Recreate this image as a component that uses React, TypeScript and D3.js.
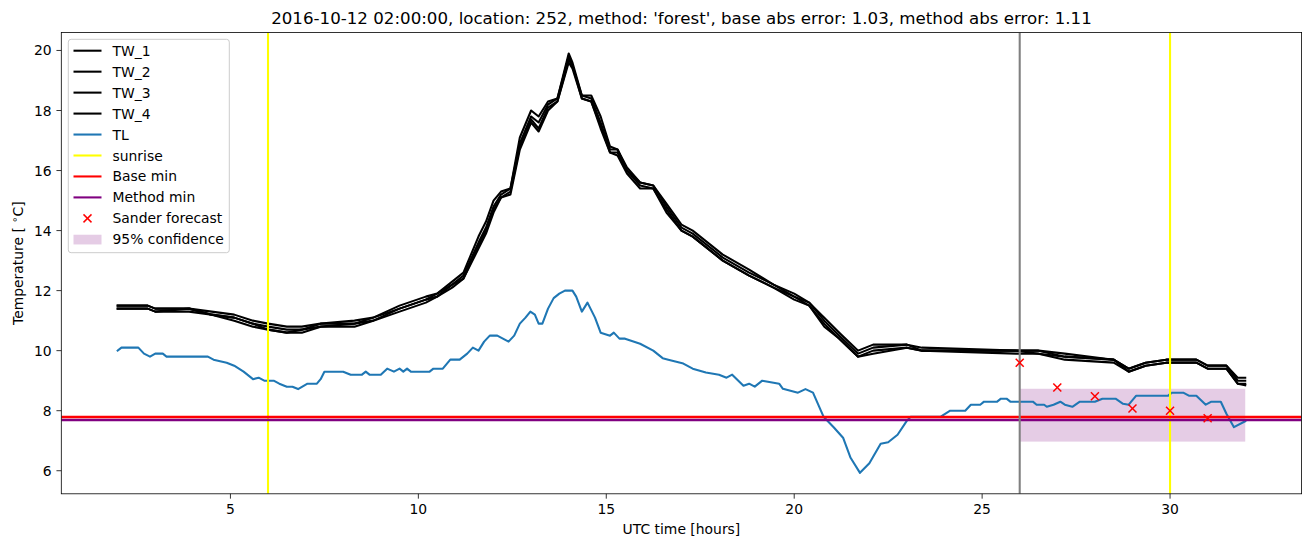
import React from "react";
import * as d3 from "d3";

const W = 1311;
const H = 547;

const titleText =
  "2016-10-12 02:00:00, location: 252, method: 'forest', base abs error: 1.03, method abs error: 1.11";

const twHours = [2.0, 2.8, 3.0, 3.9, 4.5, 5.1, 5.6, 6.0, 6.5, 6.9, 7.4, 8.3, 8.8, 9.5, 10.2, 10.5, 10.9, 11.2, 11.6, 11.8, 12.0, 12.2, 12.45, 12.7, 13.0, 13.2, 13.45, 13.7, 14.0, 14.1, 14.35, 14.6, 14.85, 15.1, 15.3, 15.55, 15.9, 16.25, 16.6, 17.0, 17.3, 18.1, 18.8, 19.45, 20.0, 20.4, 20.8, 21.2, 21.7, 22.1, 23.0, 23.4, 25.9, 26.5, 27.2, 28.5, 28.9, 29.35, 29.9, 30.7, 31.0, 31.5, 31.8, 32.0];

const tw1 = [11.5, 11.5, 11.4, 11.4, 11.3, 11.2, 11.0, 10.9, 10.8, 10.8, 10.9, 11.0, 11.1, 11.5, 11.8, 11.9, 12.3, 12.6, 13.8, 14.3, 15.0, 15.3, 15.4, 17.1, 18.0, 17.8, 18.3, 18.4, 19.9, 19.6, 18.5, 18.5, 17.8, 16.8, 16.7, 16.1, 15.6, 15.5, 14.9, 14.2, 14.0, 13.2, 12.7, 12.2, 11.9, 11.6, 11.1, 10.6, 10.0, 10.2, 10.2, 10.1, 10.0, 10.0, 9.9, 9.7, 9.4, 9.6, 9.7, 9.7, 9.5, 9.5, 9.1, 9.1];
const tw2 = [11.5, 11.5, 11.4, 11.4, 11.2, 11.1, 10.9, 10.8, 10.7, 10.7, 10.9, 10.9, 11.1, 11.4, 11.7, 11.9, 12.2, 12.5, 13.6, 14.1, 14.8, 15.2, 15.4, 16.9, 17.8, 17.6, 18.2, 18.4, 19.8, 19.5, 18.5, 18.4, 17.6, 16.7, 16.7, 16.0, 15.6, 15.5, 14.8, 14.1, 13.9, 13.1, 12.6, 12.2, 11.8, 11.6, 11.0, 10.5, 9.9, 10.1, 10.2, 10.0, 10.0, 10.0, 9.8, 9.7, 9.4, 9.6, 9.7, 9.7, 9.5, 9.5, 9.0, 9.0];
const tw3 = [11.4, 11.4, 11.3, 11.4, 11.2, 11.1, 10.9, 10.7, 10.6, 10.7, 10.8, 10.9, 11.0, 11.4, 11.7, 11.8, 12.2, 12.4, 13.5, 14.0, 14.7, 15.1, 15.3, 16.8, 17.7, 17.4, 18.1, 18.3, 19.7, 19.5, 18.4, 18.3, 17.5, 16.6, 16.6, 16.0, 15.5, 15.4, 14.7, 14.0, 13.8, 13.0, 12.5, 12.1, 11.8, 11.5, 10.9, 10.4, 9.8, 10.0, 10.1, 10.0, 10.0, 9.9, 9.8, 9.7, 9.3, 9.5, 9.6, 9.6, 9.4, 9.4, 8.9, 8.9];
const tw4 = [11.4, 11.4, 11.3, 11.3, 11.2, 11.0, 10.8, 10.7, 10.6, 10.6, 10.8, 10.8, 11.0, 11.3, 11.6, 11.8, 12.1, 12.4, 13.4, 13.9, 14.6, 15.1, 15.2, 16.7, 17.6, 17.3, 18.0, 18.3, 19.6, 19.4, 18.4, 18.3, 17.4, 16.6, 16.5, 15.9, 15.4, 15.4, 14.6, 14.0, 13.8, 13.0, 12.5, 12.1, 11.7, 11.5, 10.8, 10.4, 9.8, 9.9, 10.1, 10.0, 9.9, 9.9, 9.7, 9.6, 9.3, 9.5, 9.6, 9.6, 9.4, 9.4, 8.9, 8.85];

const tlHours = [2.0, 2.1, 2.55, 2.7, 2.86, 3.0, 3.2, 3.3, 4.4, 4.55, 4.9, 5.1, 5.35, 5.6, 5.75, 5.9, 6.15, 6.3, 6.5, 6.65, 6.8, 7.05, 7.3, 7.4, 7.5, 8.0, 8.2, 8.5, 8.6, 8.7, 9.0, 9.17, 9.35, 9.5, 9.6, 9.7, 9.8, 10.3, 10.4, 10.65, 10.85, 11.1, 11.3, 11.45, 11.6, 11.75, 11.9, 12.1, 12.25, 12.4, 12.55, 12.7, 12.85, 12.98, 13.1, 13.2, 13.3, 13.45, 13.6, 13.75, 13.9, 14.1, 14.2, 14.35, 14.5, 14.7, 14.85, 15.1, 15.2, 15.35, 15.5, 15.9, 16.25, 16.5, 16.65, 17.05, 17.3, 17.65, 18.0, 18.2, 18.35, 18.65, 18.8, 18.95, 19.15, 19.6, 19.7, 20.1, 20.3, 20.5, 20.78, 21.05, 21.3, 21.5, 21.75, 22.0, 22.3, 22.5, 22.75, 23.0, 23.1, 23.9, 24.15, 24.55, 24.7, 24.95, 25.05, 25.4, 25.5, 25.65, 25.75, 26.35, 26.45, 26.65, 26.72, 26.9, 27.08, 27.2, 27.4, 27.6, 28.0, 28.2, 28.55, 28.75, 28.9, 29.1, 29.95, 30.05, 30.35, 30.5, 30.7, 30.95, 31.1, 31.35, 31.5, 31.7, 32.0];
const tlValues = [10.0, 10.1, 10.1, 9.9, 9.8, 9.9, 9.9, 9.8, 9.8, 9.7, 9.6, 9.5, 9.3, 9.05, 9.1, 9.0, 9.0, 8.9, 8.8, 8.8, 8.72, 8.9, 8.9, 9.05, 9.3, 9.3, 9.2, 9.2, 9.3, 9.2, 9.2, 9.4, 9.3, 9.4, 9.3, 9.4, 9.3, 9.3, 9.4, 9.4, 9.7, 9.7, 9.9, 10.1, 10.0, 10.3, 10.5, 10.5, 10.4, 10.3, 10.5, 10.9, 11.1, 11.3, 11.2, 10.9, 10.9, 11.4, 11.75, 11.9, 12.0, 12.0, 11.8, 11.3, 11.6, 11.1, 10.6, 10.5, 10.6, 10.4, 10.4, 10.23, 10.0, 9.75, 9.7, 9.57, 9.4, 9.27, 9.2, 9.1, 9.2, 8.83, 8.9, 8.8, 9.0, 8.9, 8.73, 8.6, 8.72, 8.6, 7.8, 7.45, 7.1, 6.43, 5.93, 6.25, 6.9, 6.95, 7.2, 7.67, 7.8, 7.8, 8.0, 8.0, 8.2, 8.2, 8.3, 8.3, 8.4, 8.4, 8.3, 8.3, 8.2, 8.2, 8.13, 8.2, 8.3, 8.2, 8.13, 8.3, 8.3, 8.4, 8.4, 8.23, 8.2, 8.5, 8.5, 8.6, 8.6, 8.5, 8.5, 8.2, 8.3, 8.3, 7.9, 7.45, 7.65];

const sunriseHours = [6, 30];
const forecastStartHour = 26;
const baseMin = 7.79;
const methodMin = 7.69;

const forecastHours = [26, 27, 28, 29, 30, 31];
const forecastValues = [9.6, 8.77, 8.48, 8.07, 8.0, 7.75];

const confHours = [26, 32];
const confLow = 6.97;
const confHigh = 8.73;

const xTicks = [5, 10, 15, 20, 25, 30];
const yTicks = [6, 8, 10, 12, 14, 16, 18, 20];

const legendLabels = ["TW_1", "TW_2", "TW_3", "TW_4", "TL", "sunrise", "Base min", "Method min", "Sander forecast", "95% confidence"];

const FONT = "DejaVu Sans, sans-serif";

export default function App() {
  const left = 61.3, right = 1301.6, top = 32.5, bottom = 493.8;

  const xExt = d3.extent(twHours) as [number, number];
  const xPad = (xExt[1] - xExt[0]) * 0.05;
  const x = d3.scaleLinear().domain([xExt[0] - xPad, xExt[1] + xPad]).range([left, right]);

  const allY = [...tw1, ...tw2, ...tw3, ...tw4, ...tlValues];
  const yExt = d3.extent(allY) as [number, number];
  const yPad = (yExt[1] - yExt[0]) * 0.05;
  const y = d3.scaleLinear().domain([yExt[0] - yPad, yExt[1] + yPad]).range([bottom, top]);

  const line = d3.line<[number, number]>().x((d) => x(d[0])).y((d) => y(d[1]));
  const twSeries = [tw1, tw2, tw3, tw4];

  const tlPath = line(tlHours.map((h, i) => [h, tlValues[i]] as [number, number])) || "";

  const lw = 2.08;
  const legX = 68.3, legY = 39.3, legW = 161, legH = 213.4;
  const rowY0 = 50.7, rowDY = 20.96;
  const handleX0 = 73.5, handleX1 = 101.5, textX = 112.5;

  const legendStyle = (i: number) => {
    const cy = rowY0 + i * rowDY;
    if (i < 4) return <line x1={handleX0} x2={handleX1} y1={cy} y2={cy} stroke="#000" strokeWidth={lw} />;
    if (i === 4) return <line x1={handleX0} x2={handleX1} y1={cy} y2={cy} stroke="#1f77b4" strokeWidth={lw} />;
    if (i === 5) return <line x1={handleX0} x2={handleX1} y1={cy} y2={cy} stroke="#ffff00" strokeWidth={lw} />;
    if (i === 6) return <line x1={handleX0} x2={handleX1} y1={cy} y2={cy} stroke="#ff0000" strokeWidth={lw} />;
    if (i === 7) return <line x1={handleX0} x2={handleX1} y1={cy} y2={cy} stroke="#800080" strokeWidth={lw} />;
    if (i === 8) {
      const cx = (handleX0 + handleX1) / 2;
      const s = 4;
      return (
        <g stroke="#ff0000" strokeWidth={1.5}>
          <line x1={cx - s} x2={cx + s} y1={cy - s} y2={cy + s} />
          <line x1={cx - s} x2={cx + s} y1={cy + s} y2={cy - s} />
        </g>
      );
    }
    return <rect x={handleX0} y={cy - 4.6} width={handleX1 - handleX0} height={9.7} fill="#bf7fbf" fillOpacity={0.4} />;
  };

  return (
    <svg width={W} height={H} style={{ position: "absolute", left: 0, top: 0, background: "#fff" }} fontFamily={FONT}>
      <rect x={0} y={0} width={W} height={H} fill="#fff" />
      <defs>
        <clipPath id="plotClip">
          <rect x={left} y={top} width={right - left} height={bottom - top} />
        </clipPath>
      </defs>
      <g clipPath="url(#plotClip)">
        <rect
          x={x(confHours[0])}
          y={y(confHigh)}
          width={x(confHours[1]) - x(confHours[0])}
          height={y(confLow) - y(confHigh)}
          fill="#bf7fbf"
          fillOpacity={0.4}
        />
        {twSeries.map((s, k) => (
          <path
            key={k}
            d={line(twHours.map((h, i) => [h, s[i]] as [number, number])) || ""}
            fill="none"
            stroke="#000"
            strokeWidth={lw}
            strokeLinejoin="round"
            strokeLinecap="square"
          />
        ))}
        <path d={tlPath} fill="none" stroke="#1f77b4" strokeWidth={lw} strokeLinejoin="round" strokeLinecap="square" />
        {sunriseHours.map((h) => (
          <line key={h} x1={x(h)} x2={x(h)} y1={top} y2={bottom} stroke="#ffff00" strokeWidth={lw} />
        ))}
        <line x1={left} x2={right} y1={y(methodMin)} y2={y(methodMin)} stroke="#800080" strokeWidth={2.4} />
        <line x1={left} x2={right} y1={y(baseMin)} y2={y(baseMin)} stroke="#ff0000" strokeWidth={2.6} />
        <line x1={x(forecastStartHour)} x2={x(forecastStartHour)} y1={top} y2={bottom} stroke="#808080" strokeWidth={lw} />
        {forecastHours.map((h, i) => {
          const cx = x(h), cy = y(forecastValues[i]), s = 4;
          return (
            <g key={h} stroke="#ff0000" strokeWidth={1.5}>
              <line x1={cx - s} x2={cx + s} y1={cy - s} y2={cy + s} />
              <line x1={cx - s} x2={cx + s} y1={cy + s} y2={cy - s} />
            </g>
          );
        })}
      </g>

      {/* spines */}
      <rect x={left} y={top} width={right - left} height={bottom - top} fill="none" stroke="#000" strokeWidth={0.8} />

      {/* x ticks */}
      {xTicks.map((t) => (
        <g key={t}>
          <line x1={x(t)} x2={x(t)} y1={bottom} y2={bottom + 4.86} stroke="#000" strokeWidth={0.8} />
          <text x={x(t)} y={bottom + 20.2} textAnchor="middle" fontSize={13.9} fill="#000">
            {t}
          </text>
        </g>
      ))}
      {/* y ticks */}
      {yTicks.map((t) => (
        <g key={t}>
          <line x1={left - 4.86} x2={left} y1={y(t)} y2={y(t)} stroke="#000" strokeWidth={0.8} />
          <text x={left - 9.7} y={y(t) + 5} textAnchor="end" fontSize={13.9} fill="#000">
            {t}
          </text>
        </g>
      ))}

      <text x={(left + right) / 2} y={534} textAnchor="middle" fontSize={13.9} fill="#000">
        UTC time [hours]
      </text>
      <text
        transform={`translate(23, ${(top + bottom) / 2}) rotate(-90)`}
        textAnchor="middle"
        fontSize={13.9}
        fill="#000"
      >
        Temperature [ <tspan fontSize={10} dy={-5}>∘</tspan><tspan dy={5}>C]</tspan>
      </text>

      <text x={(left + right) / 2} y={23.7} textAnchor="middle" fontSize={16.67} fill="#000">
        {titleText}
      </text>

      {/* legend */}
      <rect x={legX} y={legY} width={legW} height={legH} rx={2.8} fill="#fff" fillOpacity={0.8} stroke="#cccccc" strokeWidth={1} />
      {legendLabels.map((lab, i) => (
        <g key={lab}>
          {legendStyle(i)}
          <text x={textX} y={rowY0 + i * rowDY + 5} fontSize={13.9} fill="#000">
            {lab}
          </text>
        </g>
      ))}
    </svg>
  );
}
